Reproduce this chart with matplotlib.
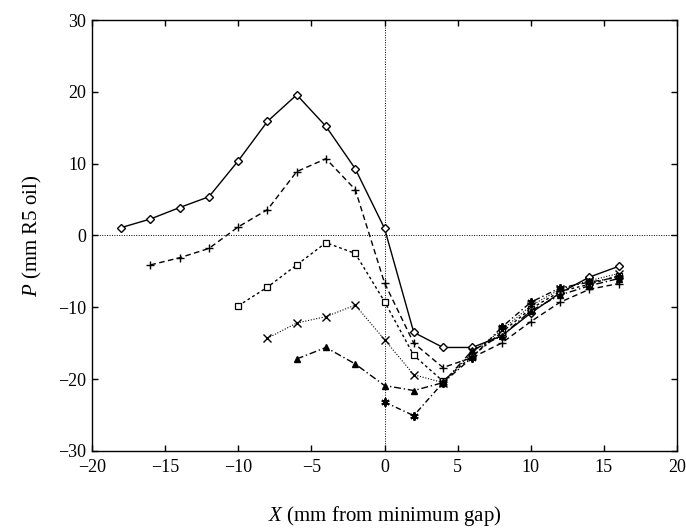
import numpy as np
import matplotlib
matplotlib.use("Agg")
import matplotlib.pyplot as plt

# Data
x_diamond = [-18, -16, -14, -12, -10, -8, -6, -4, -2, 0, 2, 4, 6, 8, 10, 12, 14, 16]
p_diamond = [1.1, 2.3, 3.9, 5.4, 10.4, 15.9, 19.6, 15.2, 9.3, 1.0,
             -13.5, -15.6, -15.6, -14.0, -10.8, -8.0, -5.8, -4.3]

x_plus = [-16, -14, -12, -10, -8, -6, -4, -2, 0, 2, 4, 6, 8, 10, 12, 14, 16]
p_plus = [-4.1, -3.1, -1.8, 1.2, 3.6, 8.9, 10.7, 6.4, -6.6, -15.0,
          -18.4, -17.0, -15.0, -12.0, -9.3, -7.5, -6.7]

x_square = [-10, -8, -6, -4, -2, 0, 2, 4, 6, 8, 10, 12, 14, 16]
p_square = [-9.8, -7.2, -4.1, -1.0, -2.5, -9.2, -16.7, -20.3,
            -16.8, -13.5, -10.2, -7.8, -6.8, -5.6]

x_cross = [-8, -6, -4, -2, 0, 2, 4, 6, 8, 10, 12, 14, 16]
p_cross = [-14.3, -12.2, -11.3, -9.7, -14.5, -19.4, -20.5,
           -16.3, -13.2, -9.8, -7.5, -6.3, -5.3]

x_tri = [-6, -4, -2, 0, 2, 4, 6, 8, 10, 12, 14, 16]
p_tri = [-17.2, -15.6, -17.9, -20.9, -21.6, -20.5,
         -16.0, -14.0, -10.5, -8.3, -7.0, -6.0]

x_star = [0, 2, 4, 6, 8, 10, 12, 14, 16]
p_star = [-23.2, -25.1, -20.5, -17.0, -12.8, -9.3, -7.3, -6.5, -5.8]

plt.rcParams['font.family'] = ['Liberation Serif', 'DejaVu Serif']
plt.rcParams['mathtext.fontset'] = 'custom'
plt.rcParams['mathtext.rm'] = 'Liberation Serif'
plt.rcParams['mathtext.it'] = 'Liberation Serif:italic'

fig = plt.figure(figsize=(6.86, 5.31), dpi=100)
ax = fig.add_axes([0.134, 0.151, 0.853, 0.811])

ax.axhline(0, color='black', lw=0.7, ls=(0, (1, 1.5)))
ax.axvline(0, color='black', lw=0.7, ls=(0, (1, 1.5)))

ms = 4.5
ax.plot(x_diamond, p_diamond, color='black', lw=1.0, ls='-',
        marker='D', ms=ms - 0.8, mfc='white', mec='black', mew=1.0)
ax.plot(x_plus, p_plus, color='black', lw=1.0, ls=(0, (4, 2.5)),
        marker='+', ms=ms + 1.5, mew=1.0)
ax.plot(x_square, p_square, color='black', lw=1.0, ls=(0, (2, 2)),
        marker='s', ms=ms, mfc='white', mec='black', mew=0.9)
ax.plot(x_cross, p_cross, color='black', lw=0.8, ls=(0, (1, 1.5)),
        marker='x', ms=ms + 1, mew=1.0)
ax.plot(x_tri, p_tri, color='black', lw=1.0, ls=(0, (5, 2, 1, 2)),
        marker='^', ms=ms, mfc='black', mec='black')
ax.plot(x_star, p_star, color='black', lw=1.0, ls=(0, (4, 2, 1, 2)),
        marker=(6, 2, 0), ms=ms + 1.5, mew=1.4)

ax.set_xlim(-20, 20)
ax.set_ylim(-30, 30)
ax.set_xticks(np.arange(-20, 21, 5))
ax.set_yticks(np.arange(-30, 31, 10))
ax.set_xticklabels(['\u221220', '\u221215', '\u221210', '\u22125', '0',
                    '5', '10', '15', '20'])
ax.set_yticklabels(['\u221230', '\u221220', '\u221210', '0', '10', '20', '30'])
ax.tick_params(direction='in', top=True, right=True, length=4, width=1,
               labelsize=13)
ax.tick_params(axis='x', pad=6)
ax.tick_params(axis='y', pad=4)
for s in ax.spines.values():
    s.set_linewidth(1.0)

ax.set_xlabel(r'$\mathit{X}$ (mm from minimum gap)', fontsize=15, labelpad=20)
ax.set_ylabel(r'$\mathit{P}$ (mm R5 oil)', fontsize=15, labelpad=10)

fig.savefig('out.png', dpi=100)
